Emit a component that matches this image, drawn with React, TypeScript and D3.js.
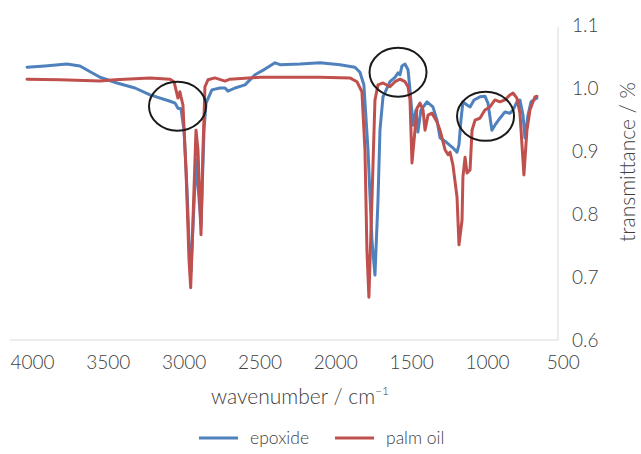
import React, { useEffect, useRef } from "react";
import * as d3 from "d3";

// wavenumber (cm-1) and transmittance
const epoxideWave = [4036, 3918, 3773, 3687, 3555, 3443, 3324, 3225, 3093, 3060, 3041, 3021, 3001, 2981, 2962, 2955, 2922, 2889, 2869, 2856, 2817, 2764, 2731, 2711, 2665, 2599, 2533, 2467, 2401, 2368, 2236, 2104, 1973, 1874, 1841, 1815, 1788, 1762, 1742, 1722, 1709, 1689, 1643, 1610, 1590, 1577, 1564, 1544, 1524, 1511, 1491, 1472, 1459, 1439, 1399, 1360, 1333, 1313, 1267, 1228, 1201, 1188, 1175, 1162, 1135, 1115, 1089, 1050, 1017, 997, 971, 951, 918, 885, 852, 832, 806, 786, 766, 753, 733, 713, 674];
const epoxideT = [1.033, 1.035, 1.038, 1.035, 1.017, 1.008, 1.0, 0.989, 0.979, 0.976, 0.968, 0.967, 0.933, 0.838, 0.719, 0.708, 0.886, 0.783, 0.933, 0.976, 0.997, 1.0, 1.0, 0.995, 1.0, 1.005, 1.021, 1.03, 1.04, 1.037, 1.038, 1.04, 1.037, 1.033, 1.025, 1.005, 0.902, 0.759, 0.703, 0.822, 0.933, 0.986, 1.01, 1.017, 1.024, 1.021, 1.035, 1.038, 1.029, 0.997, 0.941, 0.965, 0.93, 0.965, 0.978, 0.97, 0.949, 0.921, 0.913, 0.905, 0.898, 0.91, 0.949, 0.978, 0.973, 0.97, 0.981, 0.986, 0.987, 0.976, 0.933, 0.941, 0.952, 0.962, 0.96, 0.965, 0.978, 0.981, 0.957, 0.921, 0.957, 0.978, 0.984];

const palmWave = [4036, 3819, 3555, 3456, 3225, 3093, 3067, 3054, 3041, 3028, 3021, 3008, 2988, 2968, 2957, 2942, 2922, 2909, 2889, 2876, 2863, 2843, 2797, 2731, 2698, 2500, 2236, 2104, 1907, 1861, 1828, 1808, 1795, 1782, 1762, 1742, 1722, 1689, 1643, 1610, 1577, 1544, 1524, 1511, 1498, 1478, 1465, 1445, 1425, 1412, 1392, 1366, 1333, 1313, 1280, 1260, 1247, 1228, 1201, 1188, 1168, 1162, 1148, 1135, 1115, 1102, 1082, 1050, 1017, 984, 951, 918, 885, 852, 832, 806, 786, 760, 740, 720, 687, 674];
const palmT = [1.014, 1.013, 1.011, 1.013, 1.016, 1.014, 1.01, 0.997, 0.984, 0.994, 0.986, 0.973, 0.87, 0.727, 0.683, 0.79, 0.933, 0.902, 0.767, 0.902, 1.002, 1.013, 1.016, 1.011, 1.014, 1.017, 1.017, 1.017, 1.016, 1.01, 0.994, 0.902, 0.743, 0.668, 0.822, 0.981, 1.005, 1.008, 1.002, 1.01, 1.014, 1.01, 1.002, 0.981, 0.881, 0.933, 0.968, 0.976, 0.965, 0.933, 0.957, 0.96, 0.946, 0.933, 0.902, 0.894, 0.898, 0.878, 0.827, 0.751, 0.79, 0.859, 0.89, 0.865, 0.87, 0.933, 0.949, 0.952, 0.965, 0.97, 0.981, 0.978, 0.981, 0.989, 0.992, 0.984, 0.96, 0.862, 0.933, 0.965, 0.986, 0.987];

const xTicks = [4000, 3500, 3000, 2500, 2000, 1500, 1000, 500];
const yTicks = [0.6, 0.7, 0.8, 0.9, 1.0, 1.1];
const seriesNames = ["epoxide", "palm oil"];
const seriesColors = ["#4F81BD", "#C0504D"];

// highlighted regions: [wavenumber, transmittance] centres
const circleCenters = [[3044, 0.971], [1590, 1.025], [1013, 0.955]];

const width = 641;
const height = 454;
const textColor = "#404040";
const font = "Lato, 'Open Sans', sans-serif";

export default function App() {
  const ref = useRef(null);

  useEffect(() => {
    const svg = d3.select(ref.current);
    svg.selectAll("*").remove();

    const xScale = d3.scaleLinear().domain([4000, 1000]).range([32.5, 487.5]);
    const yScale = d3.scaleLinear().domain([0.6, 1.1]).range([340, 25]);

    const xLeft = xScale(4148);
    const xRight = xScale(535);

    // axis lines
    svg.append("line")
      .attr("x1", xLeft).attr("x2", xRight)
      .attr("y1", yScale(0.6)).attr("y2", yScale(0.6))
      .attr("stroke", "#d9d9d9").attr("stroke-width", 1);
    svg.append("line")
      .attr("x1", xRight).attr("x2", xRight)
      .attr("y1", yScale(0.6)).attr("y2", yScale(1.097))
      .attr("stroke", "#d9d9d9").attr("stroke-width", 1);

    // tick labels
    svg.selectAll(".xtick").data(xTicks).join("text")
      .attr("class", "xtick")
      .attr("x", d => xScale(d))
      .attr("y", 369)
      .attr("text-anchor", "middle")
      .attr("font-family", font).attr("font-size", 19).attr("font-weight", 300)
      .attr("fill", textColor)
      .text(d => d);

    svg.selectAll(".ytick").data(yTicks).join("text")
      .attr("class", "ytick")
      .attr("x", 572)
      .attr("y", d => yScale(d) + 7)
      .attr("font-family", font).attr("font-size", 19).attr("font-weight", 300)
      .attr("fill", textColor)
      .text(d => d3.format(".1f")(d));

    // series
    const line = d3.line().x(d => xScale(d[0])).y(d => yScale(d[1]));
    const series = [
      d3.zip(epoxideWave, epoxideT),
      d3.zip(palmWave, palmT),
    ];
    series.forEach((s, i) => {
      svg.append("path")
        .datum(s)
        .attr("d", line)
        .attr("fill", "none")
        .attr("stroke", seriesColors[i])
        .attr("stroke-width", 3)
        .attr("stroke-linejoin", "round")
        .attr("stroke-linecap", "round");
    });

    // circles
    svg.selectAll(".mark").data(circleCenters).join("ellipse")
      .attr("class", "mark")
      .attr("cx", d => xScale(d[0]))
      .attr("cy", d => yScale(d[1]))
      .attr("rx", 28.5).attr("ry", 24.5)
      .attr("fill", "none")
      .attr("stroke", "#1a1a1a")
      .attr("stroke-width", 2);

    // axis titles
    const xt = svg.append("text")
      .attr("x", 300).attr("y", 404)
      .attr("text-anchor", "middle")
      .attr("font-family", font).attr("font-size", 21).attr("font-weight", 300)
      .attr("fill", textColor);
    xt.append("tspan").text("wavenumber / cm");
    xt.append("tspan").attr("font-size", 12).attr("dy", -9).text("−1");

    svg.append("text")
      .attr("transform", "translate(635,162) rotate(-90)")
      .attr("text-anchor", "middle")
      .attr("font-family", font).attr("font-size", 21).attr("font-weight", 300)
      .attr("fill", textColor)
      .text("transmittance / %");

    // legend
    const legendX = [199, 335];
    seriesNames.forEach((name, i) => {
      svg.append("line")
        .attr("x1", legendX[i]).attr("x2", legendX[i] + 39)
        .attr("y1", 438).attr("y2", 438)
        .attr("stroke", seriesColors[i]).attr("stroke-width", 3);
      svg.append("text")
        .attr("x", legendX[i] + 51).attr("y", 444)
        .attr("font-family", font).attr("font-size", 17.5).attr("font-weight", 300)
        .attr("fill", textColor)
        .text(name);
    });
  }, []);

  return (
    <svg
      ref={ref}
      width={width}
      height={height}
      style={{ position: "absolute", left: 0, top: 0, background: "#fff" }}
    />
  );
}
